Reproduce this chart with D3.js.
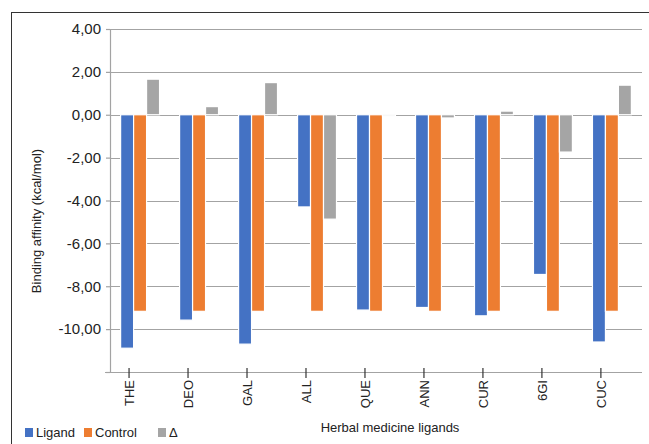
<!DOCTYPE html>
<html>
<head>
<meta charset="utf-8">
<script src="https://cdn.jsdelivr.net/npm/d3@7"></script>
<style>
  html, body { margin: 0; padding: 0; background: #fff; }
  svg { display: block; font-family: "Liberation Sans", Arial, sans-serif; }
</style>
</head>
<body>
<script>
const categories = ["THE", "DEO", "GAL", "ALL", "QUE", "ANN", "CUR", "6GI", "CUC"];
const ligand  = [-10.89, -9.58, -10.70, -4.30, -9.11, -8.99, -9.38, -7.45, -10.60];
const control = [-9.17, -9.17, -9.17, -9.17, -9.17, -9.17, -9.17, -9.17, -9.17];
const delta   = [1.66, 0.38, 1.50, -4.87, -0.06, -0.15, 0.17, -1.74, 1.38];
const seriesNames = ["Ligand", "Control", "Δ"];
const seriesColors = ["#4472C4", "#ED7D31", "#A5A5A5"];
const yTicks = [4, 2, 0, -2, -4, -6, -8, -10];
const yDomain = [-12, 4];
const xTitle = "Herbal medicine ligands";
const yTitle = "Binding affinity (kcal/mol)";

(function () {
const W = 649, H = 444;
const svg = d3.select("body").append("svg").attr("width", W).attr("height", H);

// frame (only top/left visible in crop)
svg.append("rect").attr("x", 11.5).attr("y", 12.5).attr("width", 700).attr("height", 500)
  .attr("fill", "none").attr("stroke", "#333").attr("stroke-width", 1);

const pLeft = 110, pRight = 642, pTop = 29, pBottom = 372;

const x0 = d3.scaleBand().domain(categories).range([pLeft, pRight]).paddingInner(0.34).paddingOuter(0.18);
const x1 = d3.scaleBand().domain(seriesNames).range([0, x0.bandwidth()]);
const y = d3.scaleLinear().domain(yDomain).range([pBottom, pTop]);

const gridColor = "#a3a3a3";

// gridlines
svg.append("g").selectAll("line").data(yTicks).join("line")
  .attr("x1", pLeft).attr("x2", pRight)
  .attr("y1", d => Math.round(y(d)) + 0.5).attr("y2", d => Math.round(y(d)) + 0.5)
  .attr("stroke", gridColor).attr("stroke-width", 1.2);

// bars
const table = categories.map((c, i) => ({ c, vals: [ligand[i], control[i], delta[i]] }));
const groups = svg.append("g").selectAll("g").data(table).join("g")
  .attr("transform", d => `translate(${x0(d.c)},0)`);
groups.selectAll("rect").data(d => d.vals.map((v, j) => ({ v, s: seriesNames[j], col: seriesColors[j] })))
  .join("rect")
  .attr("x", d => x1(d.s))
  .attr("width", x1.bandwidth())
  .attr("y", d => Math.min(y(d.v), y(0)))
  .attr("height", d => Math.abs(y(d.v) - y(0)))
  .attr("fill", d => d.col)
  .attr("stroke", "#fff").attr("stroke-width", 1.2);

// y axis
const yAxis = svg.append("g").attr("transform", `translate(${pLeft},0)`)
  .call(d3.axisLeft(y).tickValues(yTicks.concat([-12])).tickSize(4).tickPadding(5)
    .tickFormat(d => d === -12 ? "" : d3.format(".2f")(d).replace(".", ",").replace("−", "-")));
yAxis.select(".domain").attr("stroke", gridColor).attr("stroke-width", 1.2).attr("d", `M0.5,${pTop}V${pBottom}`);
yAxis.selectAll(".tick line").attr("stroke", gridColor).attr("stroke-width", 1.2);
yAxis.selectAll(".tick text").attr("font-size", 15).attr("fill", "#222")
  .attr("font-family", "'Liberation Sans', Arial, sans-serif");

// x axis
const xAxis = svg.append("g").attr("transform", `translate(0,${pBottom})`)
  .call(d3.axisBottom(x0).tickSize(5).tickSizeOuter(0));
xAxis.select(".domain").attr("stroke", gridColor).attr("stroke-width", 1.2).attr("d", `M105,0.5H${pRight}`);
xAxis.selectAll(".tick").attr("transform", d => `translate(${x0(d) + x1("Ligand") + x1.bandwidth() * 0.65},0)`);
xAxis.selectAll(".tick line").attr("stroke", "#333").attr("stroke-width", 1.2).attr("y1", -4).attr("y2", 6);
xAxis.selectAll(".tick text")
  .attr("transform", "rotate(-90)")
  .attr("x", -8).attr("y", 0).attr("dy", "0.36em")
  .attr("text-anchor", "end")
  .attr("font-size", 13).attr("fill", "#222")
  .attr("font-family", "'Liberation Sans', Arial, sans-serif");

// axis titles
svg.append("text").attr("x", 390).attr("y", 432).attr("text-anchor", "middle")
  .attr("font-size", 13).attr("fill", "#222").text(xTitle);
svg.append("text").attr("transform", "translate(41,221) rotate(-90)").attr("text-anchor", "middle")
  .attr("font-size", 13).attr("fill", "#222").text(yTitle);

// legend
const legendX = [25, 84, 158];
const leg = svg.append("g").selectAll("g").data(seriesNames).join("g")
  .attr("transform", (d, i) => `translate(${legendX[i]},428)`);
leg.append("rect").attr("width", 8).attr("height", 9)
  .attr("fill", (d, i) => seriesColors[i]);
leg.append("text").attr("x", 11).attr("y", 9).attr("font-size", 13).attr("fill", "#222")
  .text(d => d);
})();
</script>
</body>
</html>
